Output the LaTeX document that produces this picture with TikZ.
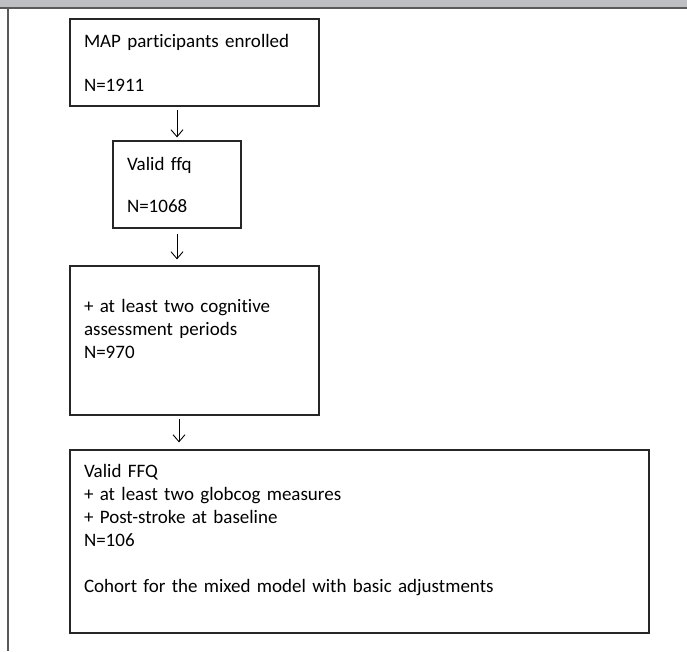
\documentclass[tikz,border=0pt]{standalone}
\usepackage{fontspec}
\setmainfont{Carlito}[Ligatures=NoCommon]
\usetikzlibrary{arrows.meta}
\definecolor{BarGray}{RGB}{190,191,195}
\definecolor{EdgeGray}{RGB}{90,90,90}

\begin{document}
\begin{tikzpicture}[x=1pt,y=1pt,>={Straight Barb[length=7pt,width=12pt]},
    flowbox/.style={draw=black!85,line width=1.2pt,align=left,inner xsep=14pt,inner ysep=0pt,
      font=\fontsize{19}{23}\selectfont}]
      \useasboundingbox (0,0) rectangle (687,-651);
      \fill[BarGray] (0,0) rectangle (687,-8);
      \draw[EdgeGray,line width=1.2pt] (0,-8) -- (687,-8);
      \draw[EdgeGray,line width=2pt] (7.5,-8) -- (7.5,-651);
      \node[flowbox,text width=221,minimum height=87] (map) at (194.5,-62.5) {MAP participants enrolled\\[21pt]N=1911};
      \node[flowbox,text width=100,minimum height=87] (ffq) at (177,-184.5) {Valid ffq\\[19pt]N=1068};
      \node[flowbox,text width=221,minimum height=149] (cog) at (194.5,-340.5) {+ at least two cognitive\\assessment periods\\N=970\\\rule{0pt}{1pt}};
      \node[flowbox,text width=551,minimum height=183] (cohort) at (359.5,-541.5) {Valid FFQ\\+ at least two globcog measures\\+ Post-stroke at baseline\\N=106\\[23pt]Cohort for the mixed model with basic adjustments\\[3pt]\rule{0pt}{1pt}};
      \draw[->,line width=0.9pt] ([yshift=-3pt]map.south -| ffq.north) -- ([yshift=3pt]ffq.north);
      \draw[->,line width=0.9pt] ([yshift=-5pt]ffq.south) -- ([yshift=6pt]cog.north -| ffq.south);
      \draw[->,line width=0.9pt] ([xshift=2pt,yshift=-3pt]cog.south -| ffq.south) -- ([xshift=2pt,yshift=7pt]cohort.north -| ffq.south);
    \end{tikzpicture}
\end{document}
